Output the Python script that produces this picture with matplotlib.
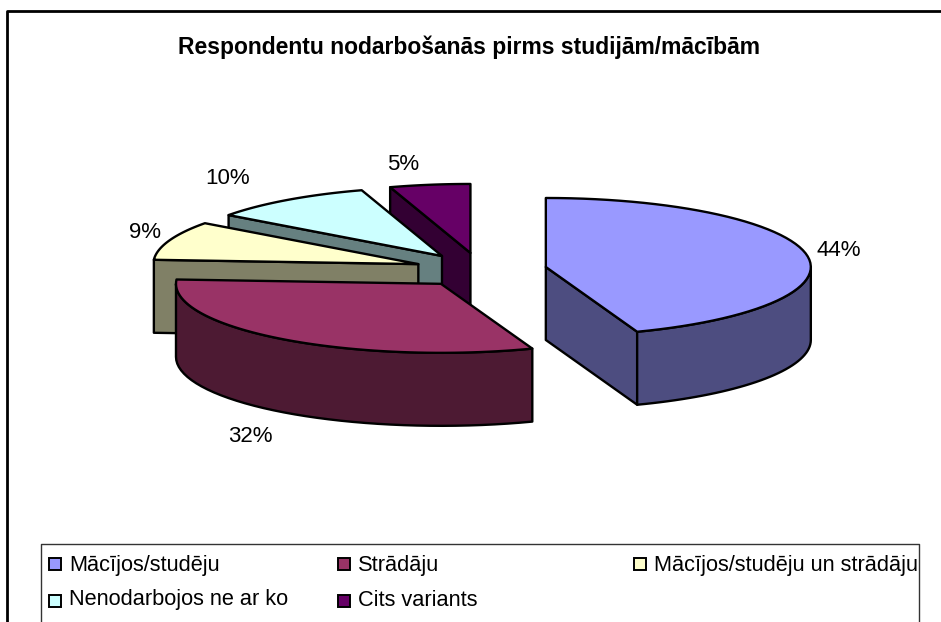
import numpy as np
import matplotlib
matplotlib.use('Agg')
import matplotlib.pyplot as plt
from matplotlib.patches import Polygon, Rectangle

categories = ['Mācījos/studēju', 'Strādāju', 'Mācījos/studēju un strādāju',
              'Nenodarbojos ne ar ko', 'Cits variants']
values = [44.4, 31.6, 9.1, 10.0, 4.9]
labels = ['44%', '32%', '9%', '10%', '5%']
top_colors = ['#9999ff', '#993366', '#ffffcc', '#ccffff', '#660066']
side_colors = ['#4d4d80', '#4d1a33', '#808066', '#668080', '#330033']

plt.rcParams['font.family'] = ['Liberation Sans', 'DejaVu Sans']

W, H = 941, 622
fig = plt.figure(figsize=(W / 100, H / 100), dpi=100)
ax = fig.add_axes([0, 0, 1, 1])
ax.set_xlim(0, W)
ax.set_ylim(H, 0)
ax.axis('off')

# pie geometry in pixels
cx, cy = 480.6, 270
a, b = 265, 69
depth = 73
explode = 0.25
lw = 1.7


def rim(ang, x0, y0):
    return x0 + a * np.sin(ang), y0 - b * np.cos(ang)


def face(pts, color):
    ax.add_patch(Polygon(pts, closed=True, facecolor=color, edgecolor='black',
                         linewidth=lw, joinstyle='round'))


edges = np.cumsum([0] + values) / sum(values) * 2 * np.pi
# back slices first, the big ones sit in front
for i in [4, 3, 2, 1, 0]:
    t0, t1 = edges[i], edges[i + 1]
    mid = (t0 + t1) / 2
    x0 = cx + explode * a * np.sin(mid)
    y0 = cy - explode * b * np.cos(mid)

    # radial walls, only the one whose top edge has the slice above it
    for t in (t0, t1):
        x1, y1 = rim(t, x0, y0)
        xm, ym = rim(mid, x0, y0)
        edge_y = y0 + (y1 - y0) * (xm - x0) / (x1 - x0) if abs(x1 - x0) > 1e-6 else None
        if edge_y is not None and ym < edge_y:
            face([(x0, y0), (x1, y1), (x1, y1 + depth), (x0, y0 + depth)], side_colors[i])

    # outer wall, only the front half of the ellipse
    lo, hi = max(t0, np.pi / 2), min(t1, 3 * np.pi / 2)
    if hi > lo:
        tt = np.linspace(lo, hi, 40)
        xs, ys = rim(tt, x0, y0)
        face(list(zip(xs, ys)) + list(zip(xs[::-1], ys[::-1] + depth)), side_colors[i])

    # top
    tt = np.linspace(t0, t1, 60)
    xs, ys = rim(tt, x0, y0)
    face([(x0, y0)] + list(zip(xs, ys)), top_colors[i])

# percent labels
label_pos = [(839, 251), (250, 436), (145, 233), (228, 179), (403, 165)]
for txt, (x, y) in zip(labels, label_pos):
    ax.text(x, y, txt, fontsize=16, ha='center', va='center', color='black')

ax.text(469.5, 47, 'Respondentu nodarbošanās pirms studijām/mācībām', fontsize=16.5,
        fontweight='bold', ha='center', va='center', color='black')

# chart frame, cut by the image on the right and bottom
ax.plot([7.5, 7.5, W + 5], [H + 5, 11, 11], color='black', lw=2)

# legend box
ax.plot([41.5, 41.5, 919, 919], [H + 5, 543.5, 543.5, H + 5], color='#333333', lw=1)
col_x = [49, 338, 634]
row_y = [564, 601]
for i, name in enumerate(categories):
    x = col_x[i % 3]
    y = row_y[i // 3]
    ax.add_patch(Rectangle((x, y - 6), 12, 12, facecolor=top_colors[i],
                           edgecolor='black', linewidth=1.4))
    ax.text(x + 20, y + (1 if i < 3 else -1), name, fontsize=15.7, ha='left', va='center',
            color='black')

fig.savefig('out.png', dpi=100, facecolor='white')
